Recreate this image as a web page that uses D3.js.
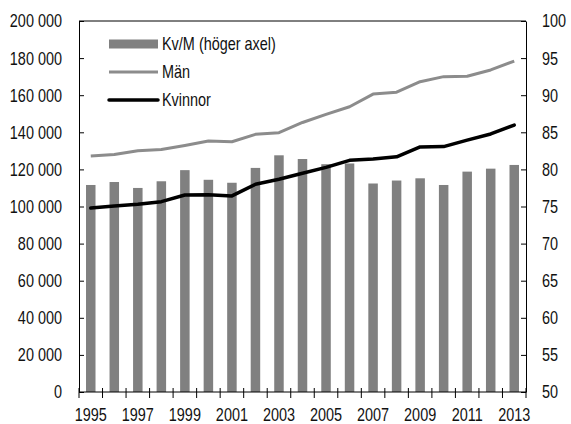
<!DOCTYPE html>
<html lang="sv">
<head>
<meta charset="UTF-8">
<title>Kv/M</title>
<script src="https://d3js.org/d3.v7.min.js"></script>
<style>
    body { margin: 0; background: #fff; }
    svg { display: block; }
    text { font-family: 'Liberation Sans', Arial, sans-serif; fill: #111; }
</style>
</head>
<body>
<svg id="chart" width="571" height="424"></svg>
<script>
// years and series
const years = [1995, 1996, 1997, 1998, 1999, 2000, 2001, 2002, 2003, 2004,
               2005, 2006, 2007, 2008, 2009, 2010, 2011, 2012, 2013];
const man = [127200, 128000, 130100, 130700, 132900, 135300, 134900, 138900, 139800, 145300,
             149700, 153800, 160600, 161600, 167300, 170000, 170200, 173600, 178400];
const kvinnor = [99200, 100300, 101200, 102600, 106200, 106300, 105700, 112000, 114700, 117900,
                 121100, 124900, 125600, 126800, 132100, 132300, 135800, 139100, 143900];
const kvm = [77.9, 78.3, 77.5, 78.4, 79.9, 78.6, 78.2, 80.2, 81.9, 81.4,
             80.7, 80.8, 78.1, 78.5, 78.8, 77.9, 79.7, 80.1, 80.6];
const leftTicks = [0, 20000, 40000, 60000, 80000, 100000, 120000, 140000, 160000, 180000, 200000];
const rightTicks = [50, 55, 60, 65, 70, 75, 80, 85, 90, 95, 100];
const legendItems = ["Kv/M (höger axel)", "Män", "Kvinnor"];

const svg = d3.select("#chart");
const margin = {left: 79, right: 45, top: 21, bottom: 32};
const W = 571, H = 424;
const x0 = margin.left, x1 = W - margin.right;
const y0 = H - margin.bottom, y1 = margin.top;
const fontSize = "18.5px";

const x = d3.scaleBand().domain(years).range([x0, x1]).padding(0);
const yL = d3.scaleLinear().domain([0, 200000]).range([y0, y1]);
const yR = d3.scaleLinear().domain([50, 100]).range([y0, y1]);

const fmt = d => d3.format(",")(d).replace(/,/g, " ");

// bars (right axis)
const barW = 9.5;
svg.append("g").selectAll("rect")
    .data(kvm)
    .enter()
    .append("rect")
    .attr("x", (d, i) => x(years[i]) + x.bandwidth() / 2 - barW / 2)
    .attr("y", d => yR(d))
    .attr("width", barW)
    .attr("height", d => yR(50) - yR(d))
    .attr("fill", "#808080");

// lines (left axis)
const line = d3.line()
    .x((d, i) => x(years[i]) + x.bandwidth() / 2)
    .y(d => yL(d));

svg.append("path")
    .datum(man)
    .attr("fill", "none")
    .attr("stroke", "#8c8c8c")
    .attr("stroke-width", 3)
    .attr("stroke-linejoin", "round")
    .attr("d", line);

svg.append("path")
    .datum(kvinnor)
    .attr("fill", "none")
    .attr("stroke", "#000")
    .attr("stroke-width", 3.5)
    .attr("stroke-linejoin", "round")
    .attr("stroke-linecap", "round")
    .attr("d", line);

// top frame
svg.append("line")
    .attr("x1", x0).attr("x2", x1)
    .attr("y1", y1).attr("y2", y1)
    .attr("stroke", "#000").attr("stroke-width", 1);

// left axis
const gL = svg.append("g")
    .attr("transform", `translate(${x0},0)`)
    .call(d3.axisLeft(yL).tickValues(leftTicks).tickFormat(fmt)
        .tickSizeInner(-5).tickSizeOuter(0).tickPadding(17));

// right axis
const gR = svg.append("g")
    .attr("transform", `translate(${x1},0)`)
    .call(d3.axisRight(yR).tickValues(rightTicks)
        .tickSizeInner(-5).tickSizeOuter(0).tickPadding(16));

// bottom axis: labels every other year
const gB = svg.append("g")
    .attr("transform", `translate(0,${y0})`)
    .call(d3.axisBottom(x).tickValues(years.filter(y => y % 2 === 1))
        .tickSize(0).tickPadding(16));
gB.select(".domain").remove();

// ticks at category boundaries, crossing the axis
svg.append("g").selectAll("line")
    .data(d3.range(years.length + 1))
    .enter()
    .append("line")
    .attr("x1", i => x0 + i * x.step())
    .attr("x2", i => x0 + i * x.step())
    .attr("y1", y0 - 4)
    .attr("y2", y0 + 6)
    .attr("stroke", "#000");
svg.append("line")
    .attr("x1", x0).attr("x2", x1)
    .attr("y1", y0).attr("y2", y0)
    .attr("stroke", "#000");

[gL, gR, gB].forEach(g => {
    g.selectAll("text").style("font-size", fontSize).attr("fill", "#111")
        .style("font-family", "'Liberation Sans', Arial, sans-serif");
    g.selectAll("line, path").attr("stroke", "#000");
});

// legend
const lg = svg.append("g");
const lgX = 109, lgW = 49, lgY = [44, 72, 100];
lg.append("rect")
    .attr("x", lgX).attr("y", lgY[0] - 4.5)
    .attr("width", lgW).attr("height", 9)
    .attr("fill", "#808080");
lg.append("line")
    .attr("x1", lgX).attr("x2", lgX + lgW)
    .attr("y1", lgY[1]).attr("y2", lgY[1])
    .attr("stroke", "#8c8c8c").attr("stroke-width", 3);
lg.append("line")
    .attr("x1", lgX).attr("x2", lgX + lgW)
    .attr("y1", lgY[2]).attr("y2", lgY[2])
    .attr("stroke", "#000").attr("stroke-width", 3.5)
    .attr("stroke-linecap", "round");
lg.selectAll("text")
    .data(legendItems)
    .enter()
    .append("text")
    .attr("x", lgX + lgW + 4)
    .attr("y", (d, i) => lgY[i])
    .attr("dy", "0.35em")
    .style("font-size", fontSize)
    .text(d => d);

// narrow all texts to mimic the condensed face of the original
svg.selectAll("text").each(function() {
    const len = this.getComputedTextLength();
    d3.select(this)
        .attr("textLength", len * 0.78)
        .attr("lengthAdjust", "spacingAndGlyphs");
});
</script>
</body>
</html>
